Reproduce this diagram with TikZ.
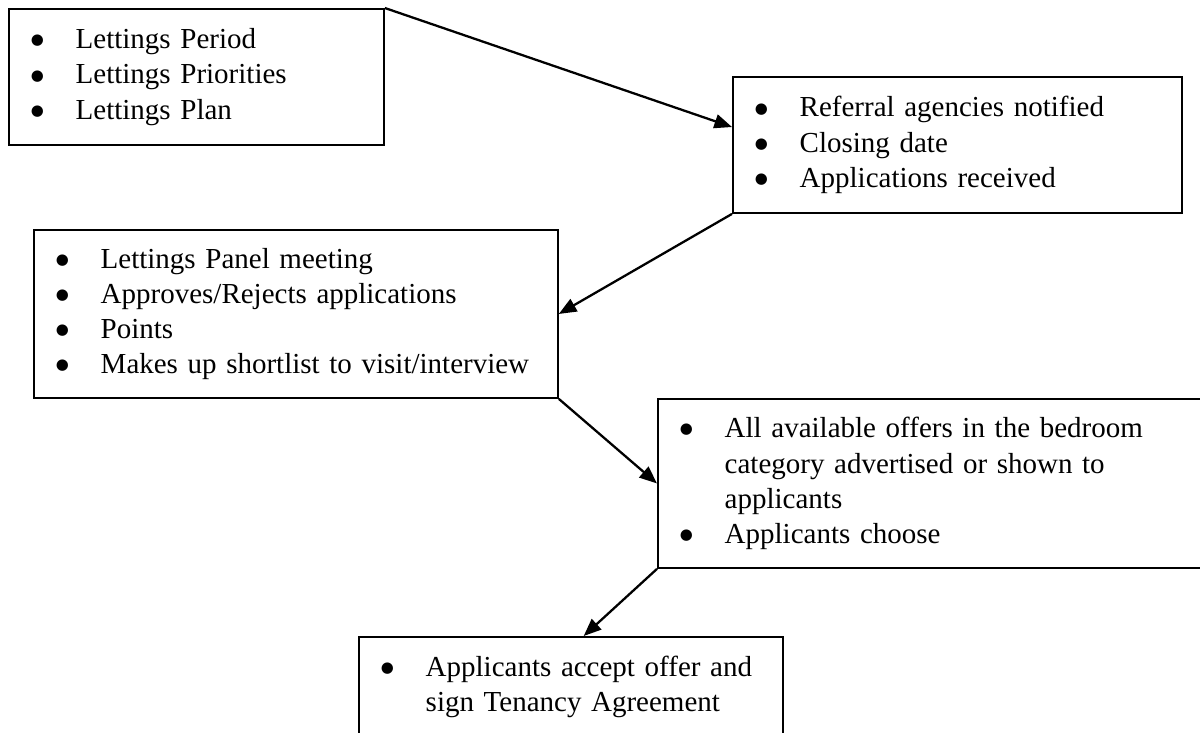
\documentclass[tikz,border=0pt]{standalone}
\usepackage{fontspec}
\setmainfont{Liberation Serif}
\newfontfamily\bulletfont{DejaVu Sans}
\usetikzlibrary{arrows.meta, positioning, calc}

\newlength{\bindent}
\setlength{\bindent}{38pt}
\newcommand{\bdot}{\raisebox{2.2pt}{\bulletfont\fontsize{8.5pt}{8.5pt}\selectfont ●}}
\newcommand{\bpoint}[1]{\makebox[\bindent][l]{\hspace{12.5pt}\bdot}#1\par}
\newcommand{\bmore}[1]{\hspace*{\bindent}#1\par}

\begin{document}
\begin{tikzpicture}[x=0.02cm, y=-0.02cm,
    flowbox/.style={draw, line width=1.1pt, anchor=north west, inner sep=0pt,
        align=left, font=\fontsize{16.5pt}{20pt}\selectfont},
    flowarrow/.style={-{Triangle[length=10pt, width=8pt]}, line width=1.3pt}]
    \useasboundingbox (0,0) rectangle (1200,733);

    % riquadri delle fasi
    \node[flowbox, text width=7.5cm, minimum height=2.72cm] (period) at (8,8)
        {\bpoint{Lettings Period}\bpoint{Lettings Priorities}\bpoint{Lettings Plan}};
    \node[flowbox, text width=8.98cm, minimum height=2.72cm] (referral) at (732,76)
        {\bpoint{Referral agencies notified}\bpoint{Closing date}\bpoint{Applications received}};
    \node[flowbox, text width=10.48cm, minimum height=3.36cm] (panel) at (33,229)
        {\bpoint{Lettings Panel meeting}\bpoint{Approves/Rejects applications}
         \bpoint{Points}\bpoint{Makes up shortlist to visit/interview}};
    \node[flowbox, text width=11.6cm, minimum height=3.38cm] (offers) at (657,398)
        {\bpoint{All available offers in the bedroom}\bmore{category advertised or shown to}
         \bmore{applicants}\bpoint{Applicants choose}};
    \node[flowbox, text width=8.48cm, minimum height=2.0cm] (accept) at (358,636)
        {\bpoint{Applicants accept offer and}\bmore{sign Tenancy Agreement}};

    % frecce tra le fasi
    \draw[flowarrow] (period.north east) -- ($(referral.north west)!0.37!(referral.south west)$);
    \draw[flowarrow] (referral.south west) -- (panel.east);
    \draw[flowarrow] (panel.south east) -- (offers.west);
    \draw[flowarrow] (offers.south west) -- ($(accept.north west)!0.53!(accept.north east)$);
\end{tikzpicture}
\end{document}
